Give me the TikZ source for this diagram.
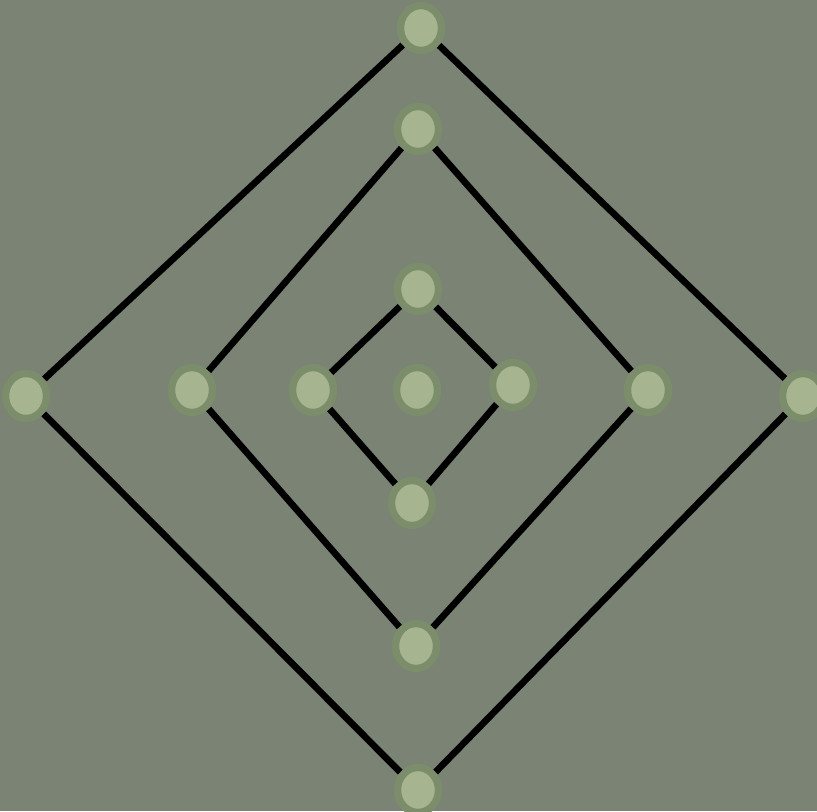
\documentclass[tikz,border=0pt]{standalone}
\usepackage{xcolor}
\usepackage{tikz}
\usetikzlibrary{positioning, shapes.geometric}

\definecolor{boardbg}{HTML}{7A8374}
\definecolor{pointring}{HTML}{7C8D6B}
\definecolor{pointfill}{HTML}{A6B58F}

\tikzset{
  point/.style={ellipse, draw=pointring, fill=pointfill, line width=4.2pt,
    minimum width=0.82cm, minimum height=0.90cm, inner sep=0pt},
  board/.style={draw=black, line width=3.8pt}
}

\begin{document}
\begin{tikzpicture}

\fill [boardbg] (0,0) rectangle (16.34, 16.22);
\useasboundingbox (0,0) rectangle (16.34, 16.22);

% outer square
\node [point] (ot) at (8.42, 15.66) {};
\node [point] (ol) at (0.52, 8.30) {};
\node [point] (or) at (16.06, 8.30) {};
\node [point] (ob) at (8.36, 0.42) {};

% middle square
\node [point] (mt) at (8.36, 13.64) {};
\node [point] (ml) at (3.84, 8.42) {};
\node [point] (mr) at (12.96, 8.42) {};
\node [point] (mb) at (8.32, 3.30) {};

% inner square
\node [point] (it) at (8.36, 10.44) {};
\node [point] (il) at (6.26, 8.42) {};
\node [point] (ir) at (10.26, 8.52) {};
\node [point] (ib) at (8.24, 6.16) {};

\node [point] (c) at (8.34, 8.42) {};

\draw [board] (ot) -- (or) -- (ob) -- (ol) -- (ot);
\draw [board] (mt) -- (mr) -- (mb) -- (ml) -- (mt);
\draw [board] (it) -- (ir) -- (ib) -- (il) -- (it);

\end{tikzpicture}
\end{document}
